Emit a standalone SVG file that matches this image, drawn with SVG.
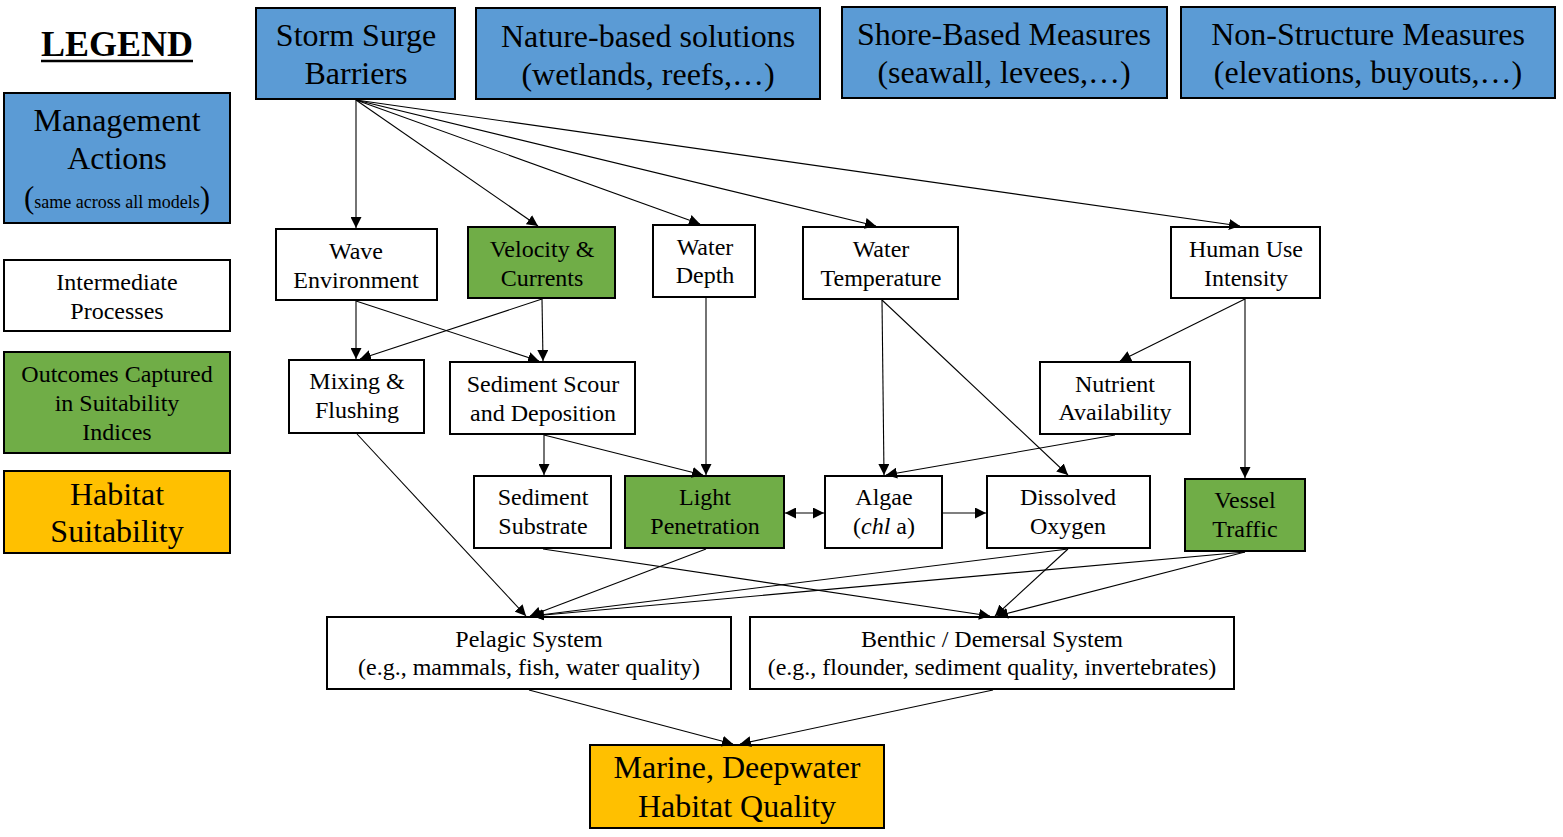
<svg xmlns="http://www.w3.org/2000/svg" width="1563" height="837" viewBox="0 0 1563 837">
<defs>
<marker id="ah" markerUnits="userSpaceOnUse" markerWidth="11" markerHeight="11" refX="11" refY="5.5" orient="auto">
<path d="M0,0 L11,5.5 L0,11 z" fill="#000"/>
</marker>
<marker id="ahs" markerUnits="userSpaceOnUse" markerWidth="11" markerHeight="11" refX="0" refY="5.5" orient="auto">
<path d="M11,0 L0,5.5 L11,11 z" fill="#000"/>
</marker>
</defs>
<style>
text{font-family:'Liberation Serif','Times New Roman',serif;fill:#000;text-anchor:middle}
.b{fill:#5B9BD5;stroke:#000;stroke-width:2}
.g{fill:#70AD47;stroke:#000;stroke-width:2}
.o{fill:#FFC000;stroke:#000;stroke-width:2}
.w{fill:#fff;stroke:#000;stroke-width:2}
.tbig{font-size:32px}
.tmid{font-size:24px}
.c line{stroke:#000;stroke-width:1.1;marker-end:url(#ah)}
</style>
<rect width="1563" height="837" fill="#fff"/>

<g id="legend">
<text x="117" y="56" style="font-size:36px;font-weight:bold">LEGEND</text>
<line x1="41" y1="61" x2="193" y2="61" stroke="#000" stroke-width="2.5"/>
</g>
<g id="legend-management">
<rect class="b" x="4" y="93" width="226" height="130"/>
<text class="tbig" x="117" y="131">Management</text>
<text class="tbig" x="117" y="169">Actions</text>
<text x="117" y="208" style="font-size:18px"><tspan style="font-size:31px">(</tspan>same across all models<tspan style="font-size:31px">)</tspan></text>
</g>
<g id="legend-intermediate">
<rect class="w" x="4" y="260" width="226" height="71"/>
<text class="tmid" x="117" y="290">Intermediate</text>
<text class="tmid" x="117" y="319">Processes</text>
</g>
<g id="legend-outcomes">
<rect class="g" x="4" y="352" width="226" height="101"/>
<text class="tmid" x="117" y="382">Outcomes Captured</text>
<text class="tmid" x="117" y="411">in Suitability</text>
<text class="tmid" x="117" y="440">Indices</text>
</g>
<g id="legend-habitat">
<rect class="o" x="4" y="471" width="226" height="82"/>
<text class="tbig" x="117" y="505">Habitat</text>
<text class="tbig" x="117" y="542">Suitability</text>
</g>

<g id="storm-surge-barriers">
<rect class="b" x="256" y="8" width="199" height="91"/>
<text class="tbig" x="356" y="46">Storm Surge</text>
<text class="tbig" x="356" y="84">Barriers</text>
</g>
<g id="nature-based">
<rect class="b" x="476" y="8" width="344" height="91"/>
<text class="tbig" x="648" y="47">Nature-based solutions</text>
<text class="tbig" x="648" y="85">(wetlands, reefs,…)</text>
</g>
<g id="shore-based">
<rect class="b" x="842" y="7" width="325" height="91"/>
<text class="tbig" x="1004" y="45">Shore-Based Measures</text>
<text class="tbig" x="1004" y="83">(seawall, levees,…)</text>
</g>
<g id="non-structure">
<rect class="b" x="1181" y="7" width="374" height="91"/>
<text class="tbig" x="1368" y="45">Non-Structure Measures</text>
<text class="tbig" x="1368" y="83">(elevations, buyouts,…)</text>
</g>

<g id="wave-environment">
<rect class="w" x="276" y="229" width="161" height="71"/>
<text class="tmid" x="356" y="259">Wave</text>
<text class="tmid" x="356" y="288">Environment</text>
</g>
<g id="velocity-currents">
<rect class="g" x="468" y="227" width="147" height="71"/>
<text class="tmid" x="542" y="257">Velocity &amp;</text>
<text class="tmid" x="542" y="286">Currents</text>
</g>
<g id="water-depth">
<rect class="w" x="653" y="225" width="102" height="72"/>
<text class="tmid" x="705" y="255">Water</text>
<text class="tmid" x="705" y="283">Depth</text>
</g>
<g id="water-temperature">
<rect class="w" x="803" y="227" width="155" height="72"/>
<text class="tmid" x="881" y="257">Water</text>
<text class="tmid" x="881" y="286">Temperature</text>
</g>
<g id="human-use-intensity">
<rect class="w" x="1171" y="227" width="149" height="71"/>
<text class="tmid" x="1246" y="257">Human Use</text>
<text class="tmid" x="1246" y="286">Intensity</text>
</g>
<g id="mixing-flushing">
<rect class="w" x="289" y="360" width="135" height="73"/>
<text class="tmid" x="357" y="389">Mixing &amp;</text>
<text class="tmid" x="357" y="418">Flushing</text>
</g>
<g id="sediment-scour">
<rect class="w" x="450" y="362" width="185" height="72"/>
<text class="tmid" x="543" y="392">Sediment Scour</text>
<text class="tmid" x="543" y="421">and Deposition</text>
</g>
<g id="nutrient-availability">
<rect class="w" x="1040" y="362" width="150" height="72"/>
<text class="tmid" x="1115" y="392">Nutrient</text>
<text class="tmid" x="1115" y="420">Availability</text>
</g>
<g id="sediment-substrate">
<rect class="w" x="474" y="476" width="137" height="72"/>
<text class="tmid" x="543" y="505">Sediment</text>
<text class="tmid" x="543" y="534">Substrate</text>
</g>
<g id="light-penetration">
<rect class="g" x="625" y="476" width="159" height="72"/>
<text class="tmid" x="705" y="505">Light</text>
<text class="tmid" x="705" y="534">Penetration</text>
</g>
<g id="algae">
<rect class="w" x="825" y="476" width="117" height="72"/>
<text class="tmid" x="884" y="505">Algae</text>
<text class="tmid" x="884" y="534">(<tspan font-style="italic">chl</tspan> a)</text>
</g>
<g id="dissolved-oxygen">
<rect class="w" x="987" y="476" width="163" height="72"/>
<text class="tmid" x="1068" y="505">Dissolved</text>
<text class="tmid" x="1068" y="534">Oxygen</text>
</g>
<g id="vessel-traffic">
<rect class="g" x="1185" y="479" width="120" height="72"/>
<text class="tmid" x="1245" y="508">Vessel</text>
<text class="tmid" x="1245" y="537">Traffic</text>
</g>
<g id="pelagic-system">
<rect class="w" x="327" y="617" width="404" height="72"/>
<text class="tmid" x="529" y="647">Pelagic System</text>
<text class="tmid" x="529" y="675">(e.g., mammals, fish, water quality)</text>
</g>
<g id="benthic-system">
<rect class="w" x="750" y="617" width="484" height="72"/>
<text class="tmid" x="992" y="647">Benthic / Demersal System</text>
<text class="tmid" x="992" y="675">(e.g., flounder, sediment quality, invertebrates)</text>
</g>
<g id="marine-habitat-quality">
<rect class="o" x="590" y="745" width="294" height="83"/>
<text class="tbig" x="737" y="778">Marine, Deepwater</text>
<text class="tbig" x="737" y="817">Habitat Quality</text>
</g>

<g id="connectors" class="c">
<line x1="356" y1="100" x2="356" y2="228"/>
<line x1="356" y1="100" x2="538" y2="226"/>
<line x1="356" y1="100" x2="700" y2="224"/>
<line x1="356" y1="100" x2="876" y2="226"/>
<line x1="356" y1="100" x2="1240" y2="226"/>
<line x1="356" y1="301" x2="356" y2="359"/>
<line x1="356" y1="301" x2="539" y2="361"/>
<line x1="542" y1="299" x2="360" y2="359"/>
<line x1="542" y1="299" x2="543" y2="361"/>
<line x1="706" y1="298" x2="706" y2="475"/>
<line x1="544" y1="435" x2="544" y2="475"/>
<line x1="544" y1="435" x2="703" y2="475"/>
<line x1="785" y1="513" x2="824" y2="513" style="marker-start:url(#ahs)"/>
<line x1="943" y1="513" x2="986" y2="513"/>
<line x1="882" y1="300" x2="884" y2="475"/>
<line x1="882" y1="300" x2="1068" y2="475"/>
<line x1="1245" y1="299" x2="1120" y2="361"/>
<line x1="1245" y1="299" x2="1245" y2="478"/>
<line x1="1115" y1="435" x2="886" y2="475"/>
<line x1="357" y1="434" x2="526" y2="616"/>
<line x1="706" y1="549" x2="530" y2="616"/>
<line x1="1068" y1="549" x2="532" y2="616"/>
<line x1="1245" y1="552" x2="533" y2="616"/>
<line x1="543" y1="549" x2="990" y2="616"/>
<line x1="1068" y1="549" x2="995" y2="616"/>
<line x1="1245" y1="552" x2="997" y2="616"/>
<line x1="529" y1="690" x2="733" y2="744"/>
<line x1="993" y1="690" x2="740" y2="744"/>
</g>
</svg>
